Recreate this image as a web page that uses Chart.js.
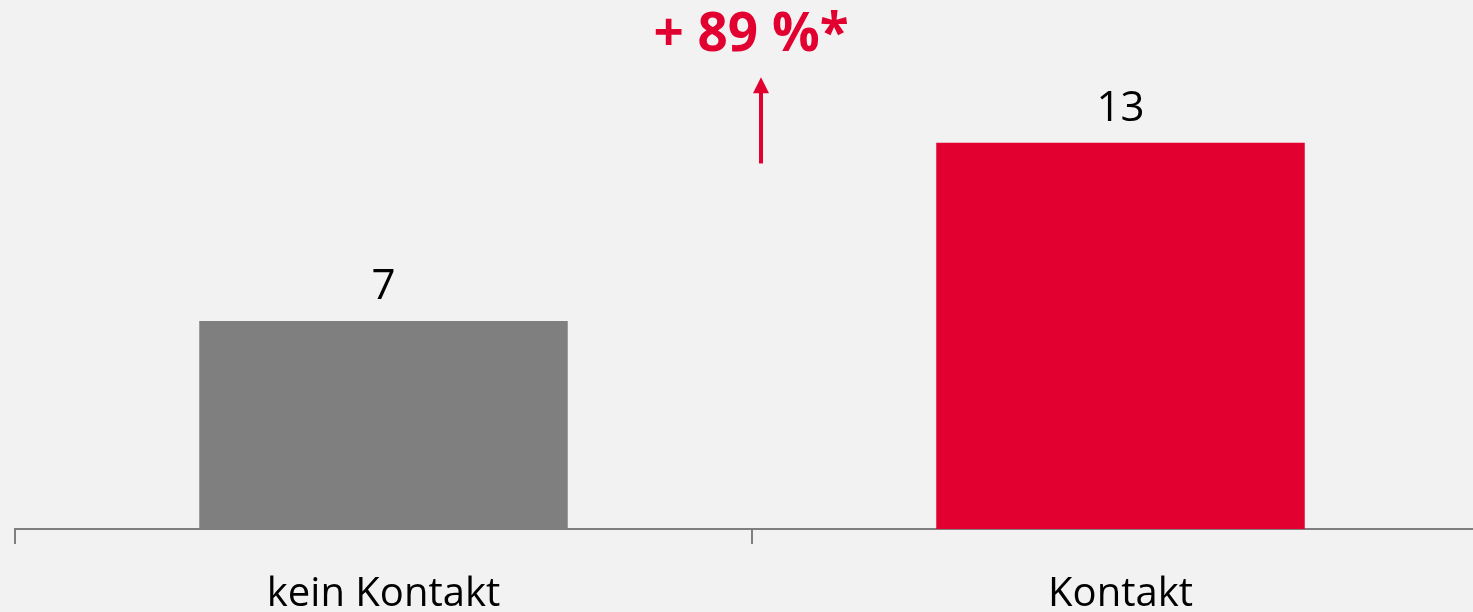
<!DOCTYPE html>
<html>
<head>
<meta charset="utf-8">
<script src="https://cdn.jsdelivr.net/npm/chart.js@4"></script>
<style>
  html, body { margin: 0; padding: 0; background: #f2f2f2; overflow: hidden; }
  canvas { display: block; }
</style>
</head>
<body>
<canvas id="contactChart" width="1489" height="650"></canvas>
<script>
const categories = ["kein Kontakt", "Kontakt"];
const values = [7, 13];
const barColors = ["#7f7f7f", "#e10030"];
const annotationText = "+ 89 %*";
// arrow runs between the two bars, in y-axis units
const arrowFrom = 12.3;
const arrowTo = 15.2;
const annotationBaseline = 16.1;

const FONT = "'Open Sans', 'Noto Sans', sans-serif";
const RED = "#e10030";

// value labels above the bars
const valueLabels = {
  id: "valueLabels",
  afterDatasetsDraw(chart) {
    const ctx = chart.ctx;
    const meta = chart.getDatasetMeta(0);
    ctx.save();
    ctx.font = "42px " + FONT;
    ctx.fillStyle = "#000";
    ctx.textAlign = "center";
    ctx.textBaseline = "alphabetic";
    meta.data.forEach(function (bar, i) {
      ctx.fillText(String(values[i]), bar.x, bar.y - 22);
    });
    ctx.restore();
  },
};

// "+ 89 %*" with arrow
const growthNote = {
  id: "growthNote",
  afterDraw(chart) {
    const ctx = chart.ctx;
    const x = chart.scales.x;
    const y = chart.scales.y;
    const mid = x.getPixelForValue(0.5);
    const ax = mid + 9;
    const y0 = y.getPixelForValue(arrowFrom);
    const y1 = y.getPixelForValue(arrowTo);
    ctx.save();
    ctx.strokeStyle = RED;
    ctx.fillStyle = RED;
    ctx.lineWidth = 4;
    ctx.beginPath();
    ctx.moveTo(ax, y0);
    ctx.lineTo(ax, y1 + 14);
    ctx.stroke();
    ctx.beginPath();
    ctx.moveTo(ax, y1);
    ctx.lineTo(ax - 8, y1 + 16);
    ctx.lineTo(ax + 8, y1 + 16);
    ctx.closePath();
    ctx.fill();

    ctx.font = "bold 53px " + FONT;
    ctx.textAlign = "center";
    ctx.textBaseline = "alphabetic";
    ctx.fillText(annotationText, mid - 1, y.getPixelForValue(annotationBaseline));
    ctx.restore();
  },
};

const ctx = document.getElementById("contactChart").getContext("2d");
const contactChart = new Chart(ctx, {
  type: "bar",
  data: {
    labels: categories,
    datasets: [
      {
        data: values,
        backgroundColor: barColors,
        borderWidth: 0,
        barPercentage: 0.5,
        categoryPercentage: 1.0,
      },
    ],
  },
  options: {
    responsive: false,
    devicePixelRatio: 1,
    animation: false,
    layout: { padding: { left: 15, right: 0, top: 0, bottom: 4 } },
    plugins: {
      legend: { display: false },
      tooltip: { enabled: false },
    },
    scales: {
      x: {
        grid: {
          offset: true,
          drawOnChartArea: false,
          drawTicks: true,
          tickLength: 15,
          color: "#7f7f7f",
          lineWidth: 2,
        },
        border: { display: true, color: "#7f7f7f", width: 2 },
        ticks: {
          color: "#000",
          font: { family: FONT, size: 40 },
          padding: 27,
          maxRotation: 0,
        },
      },
      y: {
        display: false,
        min: 0,
        max: 17.8,
      },
    },
  },
  plugins: [valueLabels, growthNote],
});
</script>
</body>
</html>
